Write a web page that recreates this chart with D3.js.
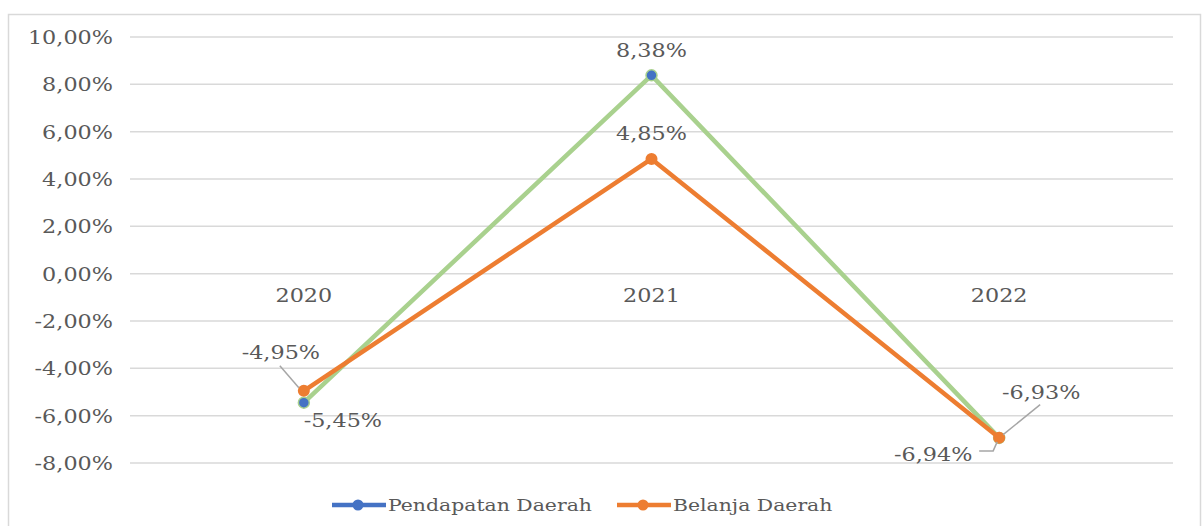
<!DOCTYPE html>
<html>
<head>
<meta charset="utf-8">
<script src="https://cdn.jsdelivr.net/npm/d3@7"></script>
<style>
  body { margin: 0; background: #fff; }
  svg { display: block; font-family: "DejaVu Serif", serif; }
</style>
</head>
<body>
<svg width="1203" height="526"></svg>
<script>
const years = ['2020', '2021', '2022'];
const pendapatan = [-5.45, 8.38, -6.94];
const belanja = [-4.95, 4.85, -6.93];
const yTicks = [-8, -6, -4, -2, 0, 2, 4, 6, 8, 10];
const seriesNames = ['Pendapatan Daerah', 'Belanja Daerah'];

const width = 1203, height = 526;
const margin = { top: 37, right: 30, bottom: 63, left: 130 };
const textColor = '#595959';
const gridColor = '#d9d9d9';
const fontSize = 18;
const stretch = 1.24; // text in the picture is wider than DejaVu Serif

const svg = d3.select('svg');

// stretch a text element horizontally around its anchor point
function widen(sel, sx) {
  sel.each(function () {
    const t = d3.select(this);
    const tx = +t.attr('x') || 0;
    const ty = +t.attr('y') || 0;
    t.attr('x', 0).attr('y', 0)
      .attr('transform', `translate(${tx},${ty}) scale(${sx},1)`);
  });
}

// outer chart frame
svg.append('rect')
  .attr('x', 8.5).attr('y', 14.5)
  .attr('width', 1192).attr('height', 540)
  .attr('fill', 'none')
  .attr('stroke', gridColor)
  .attr('stroke-width', 1.5);

const x = d3.scaleBand()
  .domain(years)
  .range([margin.left, width - margin.right]);
const cx = d => x(d) + x.bandwidth() / 2;

const y = d3.scaleLinear()
  .domain([-8, 10])
  .range([height - margin.bottom, margin.top]);

const locale = d3.formatLocale({ decimal: ',', thousands: '.', grouping: [3], currency: ['', ''], minus: '-' });
const pct = v => locale.format('.2f')(v) + '%';

// grid lines
svg.append('g')
  .selectAll('line')
  .data(yTicks)
  .join('line')
  .attr('x1', margin.left)
  .attr('x2', width - margin.right)
  .attr('y1', d => y(d))
  .attr('y2', d => y(d))
  .attr('stroke', gridColor)
  .attr('stroke-width', 1.5);

// y axis
const yAxis = svg.append('g')
  .attr('transform', `translate(${margin.left},0)`)
  .call(d3.axisLeft(y).tickValues(yTicks).tickSize(0).tickPadding(17).tickFormat(pct));
yAxis.select('.domain').remove();
yAxis.selectAll('text')
  .attr('fill', textColor)
  .attr('font-size', fontSize)
  .attr('font-family', '"DejaVu Serif", serif')
  .attr('dy', '0.36em')
  .call(widen, stretch);

// x axis at zero
const xAxis = svg.append('g')
  .attr('transform', `translate(0,${y(0)})`)
  .call(d3.axisBottom(x).tickSize(0).tickPadding(16));
xAxis.select('.domain').remove();
xAxis.selectAll('text')
  .attr('fill', textColor)
  .attr('font-size', fontSize)
  .attr('font-family', '"DejaVu Serif", serif')
  .call(widen, stretch);

const line = d3.line()
  .x((d, i) => cx(years[i]))
  .y(d => y(d));

// Pendapatan: green line, blue markers
svg.append('path')
  .datum(pendapatan)
  .attr('fill', 'none')
  .attr('stroke', '#a9d18e')
  .attr('stroke-width', 4.5)
  .attr('stroke-linejoin', 'round')
  .attr('d', line);

svg.append('g')
  .selectAll('circle')
  .data(pendapatan)
  .join('circle')
  .attr('cx', (d, i) => cx(years[i]))
  .attr('cy', d => y(d))
  .attr('r', 5.5)
  .attr('fill', '#4472c4')
  .attr('stroke', '#a9d18e')
  .attr('stroke-width', 1.5);

// Belanja: orange
svg.append('path')
  .datum(belanja)
  .attr('fill', 'none')
  .attr('stroke', '#ed7d31')
  .attr('stroke-width', 4.5)
  .attr('stroke-linejoin', 'round')
  .attr('d', line);

svg.append('g')
  .selectAll('circle')
  .data(belanja)
  .join('circle')
  .attr('cx', (d, i) => cx(years[i]))
  .attr('cy', d => y(d))
  .attr('r', 6)
  .attr('fill', '#ed7d31');

// data labels (offsets relative to point), leader lines where Excel drew them
const labelLayout = [
  { s: 0, i: 0, dx: 39, dy: 18, leader: null },
  { s: 0, i: 1, dx: 0, dy: -25, leader: null },
  { s: 0, i: 2, dx: -66, dy: 17, leader: [[-20, 13], [-6, 13], [-2, 4]] },
  { s: 1, i: 0, dx: -23, dy: -38, leader: [[-24, -25], [-5, -3]] },
  { s: 1, i: 1, dx: 0, dy: -25, leader: null },
  { s: 1, i: 2, dx: 42, dy: -45, leader: [[41, -33], [4, -3]] }
];
const allSeries = [pendapatan, belanja];

labelLayout.forEach(l => {
  const v = allSeries[l.s][l.i];
  const px = cx(years[l.i]), py = y(v);
  if (l.leader) {
    svg.append('path')
      .attr('d', d3.line()(l.leader.map(p => [px + p[0], py + p[1]])))
      .attr('fill', 'none')
      .attr('stroke', '#a6a6a6')
      .attr('stroke-width', 1.5);
  }
  svg.append('text')
    .attr('x', px + l.dx)
    .attr('y', py + l.dy)
    .attr('text-anchor', 'middle')
    .attr('dominant-baseline', 'central')
    .attr('fill', textColor)
    .attr('font-size', fontSize)
    .text(pct(v))
    .call(widen, stretch);
});

// legend
const legendColors = ['#4472c4', '#ed7d31'];
const legendX = [332, 617];
const legendY = 505;
const legend = svg.append('g')
  .selectAll('g')
  .data(seriesNames)
  .join('g')
  .attr('transform', (d, i) => `translate(${legendX[i]},${legendY})`);

legend.append('line')
  .attr('x1', 0).attr('x2', 54)
  .attr('stroke', (d, i) => legendColors[i])
  .attr('stroke-width', 4.5);
legend.append('circle')
  .attr('cx', 26)
  .attr('r', 5.5)
  .attr('fill', (d, i) => legendColors[i]);
legend.append('text')
  .attr('x', 56)
  .attr('dominant-baseline', 'central')
  .attr('fill', textColor)
  .attr('font-size', 17)
  .text(d => d)
  .call(widen, 1.2);
</script>
</body>
</html>
